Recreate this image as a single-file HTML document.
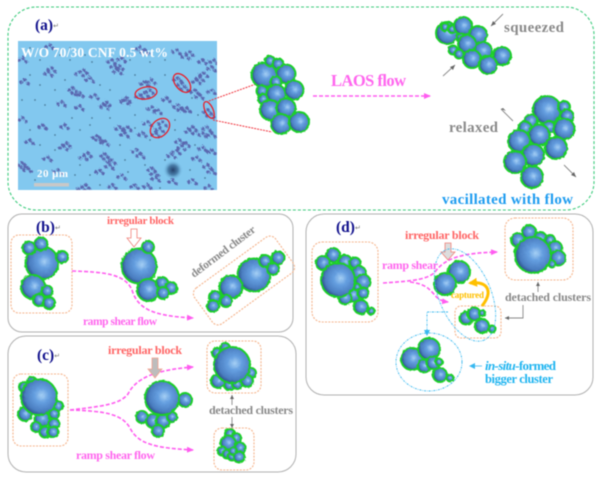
<!DOCTYPE html>
<html><head><meta charset="utf-8"><style>
html,body{margin:0;padding:0;background:#fff}
svg{display:block;filter:blur(.45px)}
text{font-family:"Liberation Serif",serif;font-weight:bold}
.b{fill:url(#g);stroke:#1bcf29;stroke-width:4;paint-order:stroke}
.o{fill:none;stroke:#f5b48c;stroke-width:1.1;stroke-dasharray:2 1.3}
.p{fill:none;stroke:#b0b0b0;stroke-width:1}
.m{fill:none;stroke:#ff5cf0;stroke-width:1.6;stroke-dasharray:4 2}
.r{fill:none;stroke:#e8202a;stroke-width:1.3}
.l{fill:none;stroke:#888;stroke-width:.9}
.c{fill:none;stroke:#38b8f0;stroke-width:.9;stroke-dasharray:2 1 .7 1}
.s{font-size:7px;font-family:"DejaVu Sans",sans-serif;font-weight:normal;fill:#777}
</style></head><body>
<svg width="600" height="480" viewBox="0 0 600 480" xmlns="http://www.w3.org/2000/svg">
<defs>
<radialGradient id="g" cx=".58" cy=".45" r=".6"><stop offset="0" stop-color="#a6d0f5"/><stop offset=".35" stop-color="#659fe0"/><stop offset=".8" stop-color="#4a7dc0"/><stop offset="1" stop-color="#2c5288"/></radialGradient>
<radialGradient id="sp"><stop offset="0" stop-color="#24406a"/><stop offset=".5" stop-color="#4a7faa"/><stop offset="1" stop-color="#7fc6ef" stop-opacity="0"/></radialGradient>
<filter id="j" filterUnits="userSpaceOnUse" x="0" y="0" width="600" height="480"><feTurbulence type="fractalNoise" baseFrequency=".35" numOctaves="2" seed="4"/><feDisplacementMap in="SourceGraphic" scale="2.2"/></filter>
<filter id="k" filterUnits="userSpaceOnUse" x="0" y="0" width="600" height="480"><feTurbulence type="fractalNoise" baseFrequency=".7" numOctaves="2" seed="9"/><feDisplacementMap in="SourceGraphic" scale="4"/></filter>
<marker id="am" markerUnits="userSpaceOnUse" markerWidth="8" markerHeight="6" refX="6" refY="3" orient="auto"><path d="M0 0L7 3L0 6z" fill="#ff5cf0"/></marker>
<marker id="ab" markerUnits="userSpaceOnUse" markerWidth="7" markerHeight="6" refX="5" refY="3" orient="auto"><path d="M0 0L6 3L0 6z" fill="#38b8f0"/></marker>
<marker id="ay" markerUnits="userSpaceOnUse" markerWidth="10" markerHeight="9" refX="7" refY="4.5" orient="auto"><path d="M0 0L9 4.5L0 9z" fill="#ffc000"/></marker>
<clipPath id="cl"><rect x="18" y="41" width="199" height="149"/></clipPath>
<g id="bl">
<path fill="none" stroke="#5a68b0" stroke-width="3.6" stroke-linecap="round" d="M115 65h0M122 58h0M118 70h0M112 60h0M120 66h0M76 91h0M73 88h0M80 93h0M80 72h0M84 70h0M49 72h0M52 68h0M25 80h0M90 78h0M127 98h0M125 100h0M105 105h0M107 102h0M80 106h0M62 102h0M23 118h0M43 125h0M120 127h0M125 133h0M128 127h0M100 138h0M105 141h0M97 136h0M160 128h0M156 133h0M163 122h0M182 108h0M178 105h0M187 108h0M190 130h0M193 127h0M208 110h0M211 114h0M145 93h0M140 95h0M150 90h0M182 83h0M178 78h0M185 87h0M200 77h0M204 73h0M197 80h0M212 67h0M214 60h0M190 52h0M186 55h0M177 50h0M140 47h0M145 50h0M50 45h0M23 58h0M67 143h0M64 146h0M48 157h0M25 165h0M28 168h0M22 163h0M88 153h0M84 156h0M108 157h0M112 160h0M105 154h0M110 165h0M100 170h0M137 150h0M141 154h0M155 172h0M152 168h0M156 177h0M177 150h0M182 146h0M172 154h0M197 157h0M203 147h0M212 170h0M208 165h0M193 180h0M173 180h0M82 187h0M86 185h0M135 185h0M113 185h0M145 82h0M152 107h0M180 140h0M186 143h0M207 127h0M203 133h0M212 133h0M152 80h0M167 98h0M158 110h0M148 122h0M143 133h0M200 95h0M212 90h0M203 60h0M195 90h0M65 125h0M95 95h0M30 140h0M58 170h0M122 175h0M148 185h0M209 186h0M212 150h0"/>
</g>
</defs>

<rect x="8" y="7" width="586" height="203" rx="28" fill="none" stroke="#3ccb7c" stroke-width="1.1" stroke-dasharray="3 2"/>
<rect x="8" y="214" width="285" height="118" rx="14" class="p"/>
<rect x="8" y="336" width="288" height="136" rx="18" class="p"/>
<rect x="306" y="214" width="287" height="181" rx="18" class="p"/>

<!-- micrograph -->
<rect x="18" y="41" width="199" height="149" fill="#82c8ef"/>
<g clip-path="url(#cl)">
<circle cx="173" cy="170" r="10" fill="url(#sp)"/>
<g filter="url(#k)">
<use href="#bl"/>
<use href="#bl" transform="translate(3 3.5)"/>
<use href="#bl" transform="translate(-4 2)"/>
</g>
<path fill="none" stroke="#4a7b9a" stroke-width="1.7" stroke-linecap="round" d="M30 48h0M40 60h0M60 55h0M70 48h0M85 55h0M100 50h0M130 60h0M150 62h0M165 60h0M30 75h0M40 85h0M55 90h0M65 80h0M100 85h0M110 90h0M135 75h0M165 75h0M35 100h0M45 105h0M72 118h0M92 118h0M110 118h0M135 115h0M175 120h0M30 130h0M55 135h0M80 130h0M90 125h0M135 128h0M175 130h0M198 115h0M40 145h0M55 150h0M80 165h0M90 175h0M125 160h0M145 165h0M165 160h0M190 170h0M205 178h0M35 180h0M60 185h0M75 175h0M120 145h0M150 140h0M195 145h0M70 60h0M92 62h0M22 100h0M45 172h0M100 185h0M160 188h0M128 172h0M192 98h0"/>
</g>
<text x="21" y="57" fill="#fff" font-size="13.5" textLength="147">W/O 70/30 CNF 0.5 wt%</text>
<text x="37" y="177" fill="#fff" font-size="11" textLength="31">20 μm</text>
<rect x="34" y="183" width="35" height="3.5" fill="#c8c8c8"/>
<ellipse cx="146" cy="93" rx="11" ry="6" transform="rotate(-10 146 93)" class="r"/>
<ellipse cx="182" cy="83" rx="11" ry="6.5" transform="rotate(50 182 83)" class="r"/>
<ellipse cx="160" cy="128" rx="11" ry="8" transform="rotate(-45 160 128)" class="r"/>
<ellipse cx="209" cy="110" rx="9" ry="4" transform="rotate(65 209 110)" class="r"/>
<path d="M206 102L256 84M213 120L272 132" fill="none" stroke="#f0333d" stroke-width="1" stroke-dasharray="2 1"/>

<!-- clusters -->
<g filter="url(#j)">
<circle class="b" cx="264" cy="75" r="11.5"/><circle class="b" cx="270" cy="61" r="4"/><circle class="b" cx="278" cy="64" r="4.5"/><circle class="b" cx="286" cy="74" r="8.5"/><circle class="b" cx="276" cy="82" r="4.5"/><circle class="b" cx="262" cy="91" r="4.5"/><circle class="b" cx="263" cy="99" r="4"/><circle class="b" cx="276" cy="94" r="8.5"/><circle class="b" cx="294" cy="90" r="8.5"/><circle class="b" cx="270" cy="110" r="9"/><circle class="b" cx="286" cy="108" r="8.5"/><circle class="b" cx="281" cy="124" r="9"/><circle class="b" cx="299" cy="122" r="9"/>

<circle class="b" cx="447" cy="33" r="10"/><circle class="b" cx="445" cy="27" r="3"/><circle class="b" cx="452" cy="29" r="3"/><circle class="b" cx="463" cy="26" r="8"/><circle class="b" cx="478" cy="35" r="8"/><circle class="b" cx="461" cy="38" r="3.5"/><circle class="b" cx="467" cy="44" r="8"/><circle class="b" cx="453" cy="50" r="3.5"/><circle class="b" cx="459" cy="54" r="3.5"/><circle class="b" cx="483" cy="51" r="8"/><circle class="b" cx="472" cy="59" r="8"/><circle class="b" cx="502" cy="56" r="8"/><circle class="b" cx="488" cy="65" r="8"/>

<circle class="b" cx="547" cy="110" r="13"/><circle class="b" cx="564" cy="107" r="5"/><circle class="b" cx="567" cy="116" r="5.5"/><circle class="b" cx="531" cy="121" r="5.5"/><circle class="b" cx="525" cy="128" r="5.5"/><circle class="b" cx="549" cy="127" r="5"/><circle class="b" cx="564" cy="129" r="9.5"/><circle class="b" cx="539" cy="135" r="9.5"/><circle class="b" cx="519" cy="141" r="10"/><circle class="b" cx="556" cy="148" r="10"/><circle class="b" cx="533" cy="155" r="10"/><circle class="b" cx="515" cy="162" r="10"/><circle class="b" cx="532" cy="177" r="10"/>

<circle class="b" cx="42" cy="263" r="15.5"/><circle class="b" cx="29" cy="248" r="5.5"/><circle class="b" cx="41" cy="244" r="5.5"/><circle class="b" cx="62" cy="257" r="5"/><circle class="b" cx="33" cy="287" r="11"/><circle class="b" cx="47" cy="291" r="4.5"/><circle class="b" cx="39" cy="300" r="5"/><circle class="b" cx="49" cy="303" r="5"/>

<circle class="b" cx="139" cy="266" r="16.5"/><circle class="b" cx="148" cy="247" r="5"/><circle class="b" cx="148" cy="290" r="10"/><circle class="b" cx="162" cy="283" r="5"/><circle class="b" cx="171" cy="288" r="5"/><circle class="b" cx="163" cy="293" r="5"/>

<circle class="b" cx="254" cy="275" r="15.5"/><circle class="b" cx="265" cy="261" r="5"/><circle class="b" cx="278" cy="258" r="5.5"/><circle class="b" cx="273" cy="269" r="5"/><circle class="b" cx="231" cy="287" r="10.5"/><circle class="b" cx="215" cy="297" r="5"/><circle class="b" cx="226" cy="301" r="5"/><circle class="b" cx="213" cy="306" r="5"/>

<circle class="b" cx="25" cy="414" r="6"/><circle class="b" cx="42" cy="419" r="6.5"/><circle class="b" cx="58" cy="406" r="4"/><circle class="b" cx="54" cy="414" r="4"/><circle class="b" cx="54" cy="424" r="4.5"/><circle class="b" cx="36" cy="427" r="4"/><circle class="b" cx="45" cy="432" r="4.5"/><circle class="b" cx="53" cy="432" r="4.5"/><circle class="b" cx="24" cy="387" r="4"/><circle class="b" cx="32" cy="382" r="4"/><circle class="b" cx="39" cy="397" r="17"/>

<circle class="b" cx="185" cy="400" r="6"/><circle class="b" cx="142" cy="417" r="5"/><circle class="b" cx="153" cy="421" r="6"/><circle class="b" cx="163" cy="421" r="6"/><circle class="b" cx="172" cy="417" r="4"/><circle class="b" cx="158" cy="431" r="5"/><circle class="b" cx="162" cy="398" r="16"/>

<circle class="b" cx="217" cy="353" r="4"/><circle class="b" cx="225" cy="348" r="4"/><circle class="b" cx="251" cy="373" r="4"/><circle class="b" cx="218" cy="381" r="6"/><circle class="b" cx="229" cy="385" r="4"/><circle class="b" cx="237" cy="384" r="4"/><circle class="b" cx="247" cy="381" r="5"/><circle class="b" cx="232" cy="365" r="17"/>

<circle class="b" cx="230" cy="434" r="4"/><circle class="b" cx="236" cy="438" r="4"/><circle class="b" cx="228" cy="443" r="6.5"/><circle class="b" cx="240" cy="448" r="4.5"/><circle class="b" cx="222" cy="451" r="3.5"/><circle class="b" cx="227" cy="454" r="3.5"/><circle class="b" cx="232" cy="456" r="3.5"/><circle class="b" cx="233" cy="451" r="3"/><circle class="b" cx="239" cy="457" r="4.5"/>

<circle class="b" cx="333" cy="255" r="6"/><circle class="b" cx="323" cy="263" r="6"/><circle class="b" cx="345" cy="262" r="6"/><circle class="b" cx="355" cy="263" r="4.5"/><circle class="b" cx="359" cy="273" r="6"/><circle class="b" cx="363" cy="282" r="6.5"/><circle class="b" cx="353" cy="295" r="6"/><circle class="b" cx="345" cy="298" r="5.5"/><circle class="b" cx="363" cy="293" r="4.5"/><circle class="b" cx="361" cy="307" r="6"/><circle class="b" cx="371" cy="311" r="2.5"/><circle class="b" cx="357" cy="287" r="2.5"/><circle class="b" cx="338" cy="280" r="16"/>

<circle class="b" cx="518" cy="240" r="6"/><circle class="b" cx="529" cy="232" r="6"/><circle class="b" cx="540" cy="239" r="6"/><circle class="b" cx="550" cy="240" r="4"/><circle class="b" cx="555" cy="248" r="6"/><circle class="b" cx="558" cy="258" r="6.5"/><circle class="b" cx="518" cy="251" r="2.5"/><circle class="b" cx="552" cy="264" r="2.5"/><circle class="b" cx="533" cy="255" r="17"/>

<circle class="b" cx="459" cy="272" r="10"/><circle class="b" cx="445" cy="284" r="10"/>
<circle class="b" cx="466" cy="318" r="5.5"/><circle class="b" cx="474" cy="314" r="5.5"/><circle class="b" cx="482" cy="326" r="6"/><circle class="b" cx="492" cy="329" r="2.5"/><circle class="b" cx="482" cy="313" r="2"/>

<circle class="b" cx="412" cy="359" r="10"/><circle class="b" cx="429" cy="349" r="10"/><circle class="b" cx="424" cy="366" r="5.5"/><circle class="b" cx="433" cy="363" r="5.5"/><circle class="b" cx="439" cy="362" r="2.5"/><circle class="b" cx="440" cy="375" r="6"/><circle class="b" cx="450" cy="378" r="2.5"/>
</g>

<!-- orange boxes -->
<rect x="11" y="235" width="61" height="78" rx="8" class="o"/>
<rect x="194" y="258.5" width="100" height="44" rx="7" transform="rotate(-36 244 280.5)" class="o"/>
<rect x="13" y="374" width="55" height="72" rx="8" class="o"/>
<rect x="207" y="341" width="54" height="52" rx="8" class="o"/>
<rect x="214" y="428" width="40" height="42" rx="8" class="o"/>
<rect x="312" y="242" width="66" height="80" rx="10" class="o"/>
<rect x="505" y="218" width="68" height="62" rx="10" class="o"/>
<rect x="455" y="306" width="46" height="32" rx="6" class="o"/>

<!-- flows -->
<path d="M313 96H430" class="m" marker-end="url(#am)"/>
<path d="M72 271C105 272 125 274 132 290C138 310 155 316 193 318" class="m" marker-end="url(#am)"/>
<path d="M70 410C105 406 120 404 128 394C136 378 155 370 193 367" class="m" marker-end="url(#am)"/>
<path d="M70 410C105 411 122 414 130 428C138 444 155 448 193 450" class="m" marker-end="url(#am)"/>
<path d="M383 283C415 281 428 279 435 272C445 258 462 253 497 252" class="m" marker-end="url(#am)"/>
<path d="M410 282C425 284 428 288 433 293C437 298 440 301 448 302" class="m" marker-end="url(#am)"/>

<!-- block arrows -->
<path d="M131 229h6v9h4l-7 9l-7-9h4z" fill="#fff" stroke="#f08078" stroke-width=".8"/>
<path d="M152 358h6v11h4l-7 9l-7-9h4z" fill="#bdbdbd" stroke="#f5a090" stroke-width=".8"/>
<path d="M445 243h6v9h4l-7 8l-7-8h4z" fill="#ddd" stroke="#f08078" stroke-width=".8"/>

<!-- gray arrows -->
<path d="M503 14L491 26M443 76L455 65M513 121L501 109M564 165L576 177M232 405V395M232 417V428M523 305V318H505M538 292V282" class="l"/>
<path d="M491 26l5-2l-3-3zM455 65l-5 2l3 3zM501 109l5 2l-3-3zM576 177l-5-2l3-3zM232 395l-2 4h4zM232 428l-2-4h4zM505 318l4-2v4zM538 282l-2 4h4z" fill="#666"/>

<!-- blue -->
<ellipse cx="465" cy="295" rx="49" ry="26" transform="rotate(67 465 295)" class="c"/>
<ellipse cx="429" cy="362" rx="33" ry="29" class="c"/>
<path d="M448 312H427V335" class="c" marker-end="url(#ab)"/>
<path d="M482 366H470" fill="none" stroke="#38b8f0" stroke-width=".8" marker-end="url(#ab)"/>

<!-- captured -->
<path d="M482 306C493 292 489 281 470 283" fill="none" stroke="#ffc000" stroke-width="3" marker-end="url(#ay)"/>

<!-- labels -->
<text x="35" y="30" font-size="15.5" fill="#10108c">(a)<tspan class="s" dy="-2">↵</tspan></text>
<text x="36" y="232" font-size="15.5" fill="#10108c">(b)<tspan class="s" dy="-2">↵</tspan></text>
<text x="37" y="360" font-size="15.5" fill="#10108c">(c)<tspan class="s" dy="-2">↵</tspan></text>
<text x="336" y="232" font-size="15.5" fill="#10108c">(d)<tspan class="s" dy="-2">↵</tspan></text>

<text x="331" y="86" font-size="16.5" fill="#ff66ee" textLength="75">LAOS flow</text>
<text x="504" y="32" font-size="15" fill="#8a8a8a" textLength="60">squeezed</text>
<text x="449" y="132" font-size="15" fill="#8a8a8a" textLength="49">relaxed</text>
<text x="442" y="204" font-size="15" fill="#1e9cf0" textLength="131">vacillated with flow</text>

<text x="107" y="224" font-size="11" fill="#ff6464" textLength="67">irregular block</text>
<text x="83" y="325" font-size="11.5" fill="#ff66ee" textLength="74">ramp shear flow</text>
<text transform="translate(194 278) rotate(-37)" font-size="11.5" fill="#8a8a8a" textLength="78">deformed cluster</text>

<text x="108" y="354" font-size="12" fill="#ff6464" textLength="74">irregular block</text>
<text x="76" y="459" font-size="12" fill="#ff66ee" textLength="79">ramp shear flow</text>
<text x="209" y="414" font-size="12" fill="#8a8a8a" textLength="84">detached clusters</text>

<text x="405" y="239" font-size="12" fill="#ff6464" textLength="74">irregular block</text>
<text x="382" y="269" font-size="12" fill="#ff66ee" textLength="56">ramp shear</text>
<text x="505" y="301" font-size="12" fill="#8a8a8a" textLength="86">detached clusters</text>
<text x="451" y="298" font-size="9" fill="#ffc000" textLength="33">captured</text>
<text x="485" y="370" font-size="13" fill="#1eb4f0" textLength="71"><tspan font-style="italic">in-situ</tspan>-formed</text>
<text x="485" y="383" font-size="12.5" fill="#1eb4f0" textLength="68">bigger cluster</text>
</svg>
</body></html>
